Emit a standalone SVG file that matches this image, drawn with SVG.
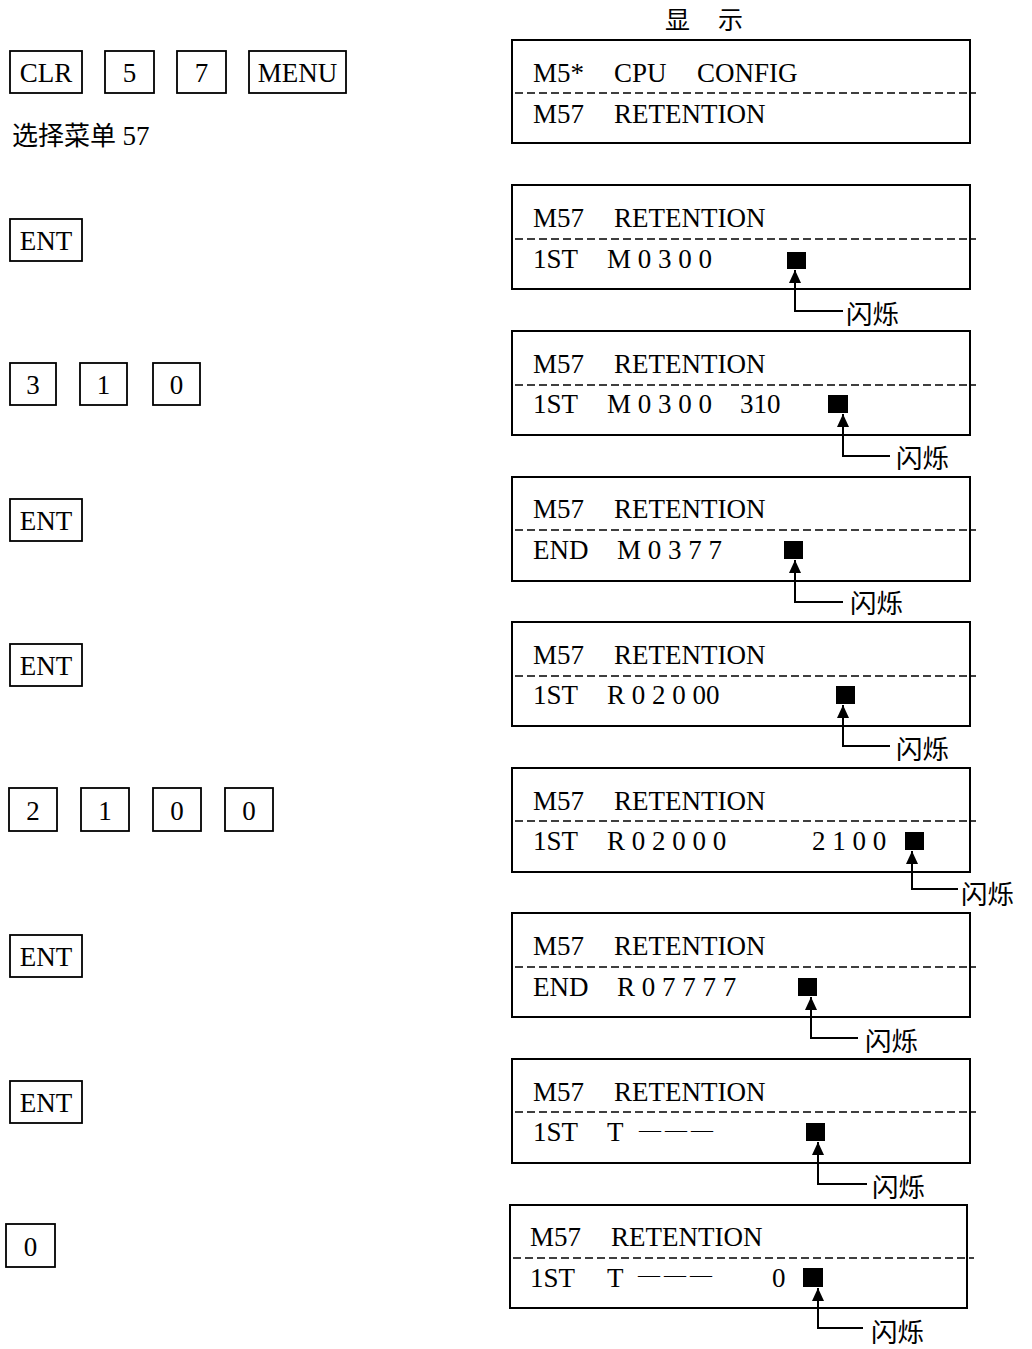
<svg xmlns="http://www.w3.org/2000/svg" width="1032" height="1349" viewBox="0 0 1032 1349">
<style>
text{font-family:"Liberation Serif","Noto Sans CJK SC",serif;font-size:27px;fill:#000}
.cjk{font-family:"Noto Sans CJK SC","Liberation Serif",sans-serif;font-size:26.5px}
.key{fill:#fff;stroke:#000;stroke-width:1.8}
.disp{fill:#fff;stroke:#000;stroke-width:2}
.sep{stroke:#000;stroke-width:1.6;stroke-dasharray:8 4;fill:none}
.cur{fill:#000}
.call{fill:none;stroke:#000;stroke-width:2}
.kt{text-anchor:middle}
.dash{font-size:22px;letter-spacing:4px}
</style>
<defs>
<marker id="ah" viewBox="0 0 13 12" refX="13" refY="6" markerWidth="13" markerHeight="12" markerUnits="userSpaceOnUse" orient="auto">
<path d="M0,0 L13,6 L0,12 z" fill="#000"/>
</marker>
</defs>

<text class="cjk" x="665" y="29" style="font-size:25px">显</text>
<text class="cjk" x="718" y="29" style="font-size:25px">示</text>

<!-- key rows -->
<g id="keys-1">
<rect class="key" x="10" y="51" width="72" height="42"/><text class="kt" x="46" y="82">CLR</text>
<rect class="key" x="105" y="51" width="49" height="42"/><text class="kt" x="129.5" y="82">5</text>
<rect class="key" x="177" y="51" width="49" height="42"/><text class="kt" x="201.5" y="82">7</text>
<rect class="key" x="249" y="51" width="97" height="42"/><text class="kt" x="297.5" y="82">MENU</text>
</g>
<text id="note" x="12" y="145" style="font-size:26px">选择菜单 <tspan style="font-family:'Liberation Serif',serif;font-size:27px">57</tspan></text>
<g id="keys-2"><rect class="key" x="10" y="219" width="72" height="42"/><text class="kt" x="46" y="250">ENT</text></g>
<g id="keys-3">
<rect class="key" x="10" y="363" width="46" height="42"/><text class="kt" x="33" y="394">3</text>
<rect class="key" x="80" y="363" width="47" height="42"/><text class="kt" x="103.5" y="394">1</text>
<rect class="key" x="153" y="363" width="47" height="42"/><text class="kt" x="176.5" y="394">0</text>
</g>
<g id="keys-4"><rect class="key" x="10" y="499" width="72" height="42"/><text class="kt" x="46" y="530">ENT</text></g>
<g id="keys-5"><rect class="key" x="10" y="644" width="72" height="42"/><text class="kt" x="46" y="675">ENT</text></g>
<g id="keys-6">
<rect class="key" x="9" y="788" width="48" height="43"/><text class="kt" x="33" y="820">2</text>
<rect class="key" x="81" y="788" width="48" height="43"/><text class="kt" x="105" y="820">1</text>
<rect class="key" x="153" y="788" width="48" height="43"/><text class="kt" x="177" y="820">0</text>
<rect class="key" x="225" y="788" width="48" height="43"/><text class="kt" x="249" y="820">0</text>
</g>
<g id="keys-7"><rect class="key" x="10" y="935" width="72" height="42"/><text class="kt" x="46" y="966">ENT</text></g>
<g id="keys-8"><rect class="key" x="10" y="1081" width="72" height="42"/><text class="kt" x="46" y="1112">ENT</text></g>
<g id="keys-9"><rect class="key" x="6" y="1224" width="49" height="43"/><text class="kt" x="30.5" y="1256">0</text></g>

<!-- displays -->
<g id="disp-1">
<rect class="disp" x="512" y="40" width="458" height="103"/>
<line class="sep" x1="515" y1="93" x2="976" y2="93"/>
<text x="533" y="82">M5*</text><text x="614" y="82">CPU</text><text x="697" y="82">CONFIG</text>
<text x="533" y="123">M57</text><text x="614" y="123">RETENTION</text>
</g>
<g id="disp-2">
<rect class="disp" x="512" y="185" width="458" height="104"/>
<line class="sep" x1="515" y1="239" x2="976" y2="239"/>
<text x="533" y="227">M57</text><text x="614" y="227">RETENTION</text>
<text x="533" y="268">1ST</text><text x="607" y="268">M 0 3 0 0</text>
<rect class="cur" x="787" y="252" width="19" height="17"/>
</g>
<g id="disp-3">
<rect class="disp" x="512" y="331" width="458" height="104"/>
<line class="sep" x1="515" y1="385" x2="976" y2="385"/>
<text x="533" y="373">M57</text><text x="614" y="373">RETENTION</text>
<text x="533" y="413">1ST</text><text x="607" y="413">M 0 3 0 0</text><text x="740" y="413">310</text>
<rect class="cur" x="828" y="395" width="20" height="18"/>
</g>
<g id="disp-4">
<rect class="disp" x="512" y="477" width="458" height="104"/>
<line class="sep" x1="515" y1="530" x2="976" y2="530"/>
<text x="533" y="518">M57</text><text x="614" y="518">RETENTION</text>
<text x="533" y="559">END</text><text x="617" y="559">M 0 3 7 7</text>
<rect class="cur" x="784" y="541" width="19" height="18"/>
</g>
<g id="disp-5">
<rect class="disp" x="512" y="622" width="458" height="104"/>
<line class="sep" x1="515" y1="676" x2="976" y2="676"/>
<text x="533" y="664">M57</text><text x="614" y="664">RETENTION</text>
<text x="533" y="704">1ST</text><text x="607" y="704">R 0 2 0 00</text>
<rect class="cur" x="836" y="686" width="19" height="18"/>
</g>
<g id="disp-6">
<rect class="disp" x="512" y="768" width="458" height="104"/>
<line class="sep" x1="515" y1="821" x2="976" y2="821"/>
<text x="533" y="810">M57</text><text x="614" y="810">RETENTION</text>
<text x="533" y="850">1ST</text><text x="607" y="850">R 0 2 0 0 0</text><text x="812" y="850">2 1 0 0</text>
<rect class="cur" x="905" y="832" width="19" height="18"/>
</g>
<g id="disp-7">
<rect class="disp" x="512" y="913" width="458" height="104"/>
<line class="sep" x1="515" y1="967" x2="976" y2="967"/>
<text x="533" y="955">M57</text><text x="614" y="955">RETENTION</text>
<text x="533" y="996">END</text><text x="617" y="996">R 0 7 7 7 7</text>
<rect class="cur" x="798" y="978" width="19" height="18"/>
</g>
<g id="disp-8">
<rect class="disp" x="512" y="1059" width="458" height="104"/>
<line class="sep" x1="515" y1="1112" x2="976" y2="1112"/>
<text x="533" y="1101">M57</text><text x="614" y="1101">RETENTION</text>
<text x="533" y="1141">1ST</text><text x="607" y="1141">T</text><text class="dash" x="639" y="1137">———</text>
<rect class="cur" x="806" y="1123" width="19" height="18"/>
</g>
<g id="disp-9">
<rect class="disp" x="510" y="1205" width="457" height="103"/>
<line class="sep" x1="513" y1="1258" x2="974" y2="1258"/>
<text x="530" y="1246">M57</text><text x="611" y="1246">RETENTION</text>
<text x="530" y="1287">1ST</text><text x="607" y="1287">T</text><text class="dash" x="638" y="1282">———</text><text x="772" y="1287">0</text>
<rect class="cur" x="803" y="1268" width="20" height="19"/>
</g>

<!-- callouts -->
<g id="connectors">
<path class="call" marker-end="url(#ah)" d="M843,311 H795 V270"/>
<path class="call" marker-end="url(#ah)" d="M890,456 H843 V414"/>
<path class="call" marker-end="url(#ah)" d="M843,602 H795 V560"/>
<path class="call" marker-end="url(#ah)" d="M890,746 H843 V705"/>
<path class="call" marker-end="url(#ah)" d="M958,889 H912 V851"/>
<path class="call" marker-end="url(#ah)" d="M858,1038 H811 V997"/>
<path class="call" marker-end="url(#ah)" d="M867,1184 H818 V1142"/>
<path class="call" marker-end="url(#ah)" d="M863,1328 H818 V1288"/>
</g>
<g id="labels">
<text class="cjk" x="846" y="324">闪烁</text>
<text class="cjk" x="896" y="468">闪烁</text>
<text class="cjk" x="850" y="613">闪烁</text>
<text class="cjk" x="896" y="759">闪烁</text>
<text class="cjk" x="961" y="904">闪烁</text>
<text class="cjk" x="865" y="1051">闪烁</text>
<text class="cjk" x="872" y="1197">闪烁</text>
<text class="cjk" x="871" y="1342">闪烁</text>
</g>
</svg>
